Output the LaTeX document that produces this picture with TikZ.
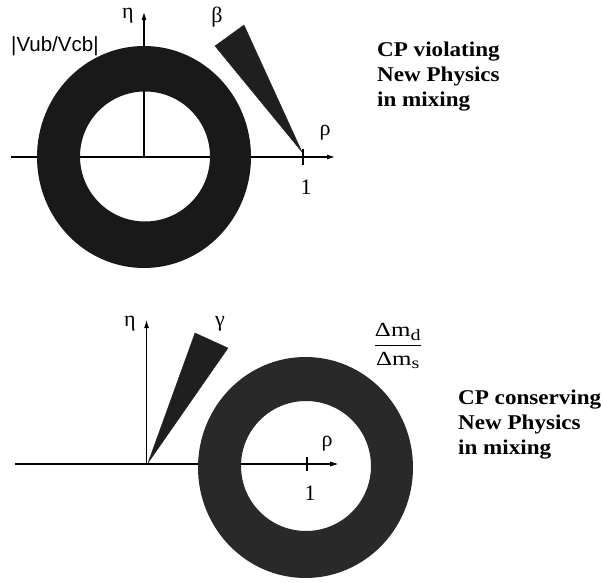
\documentclass[tikz,border=0pt]{standalone}
\usepackage{fontspec}
\setmainfont{Liberation Serif}
\newfontfamily\notefont[FakeStretch=1.1]{Liberation Serif}
\newfontfamily\fracfont[FakeStretch=1.25]{Liberation Serif}
\newfontfamily\vfont{Liberation Sans}
\usetikzlibrary{arrows.meta}
\begin{document}
\begin{tikzpicture}[x=1pt,y=-1pt,
  axis/.style={line width=1.1pt,-{Latex[length=8pt,width=5pt]}},
  tickline/.style={line width=1.1pt},
  ringtop/.style={fill=black!90,even odd rule},
  ringbot/.style={fill=black!84,even odd rule},
  wedge/.style={fill=black!88,draw=black!88,line width=0.4pt,line join=miter},
  greek/.style={font=\fontsize{22}{22}\selectfont,inner sep=0pt},
  note/.style={font=\notefont\bfseries\fontsize{21}{25}\selectfont,anchor=base west,inner sep=0pt},
]
\useasboundingbox (0,0) rectangle (603,583);

% ---------- top diagram ----------
\coordinate (ax1l) at (11,157);
\coordinate (ax1r) at (335,157);
\coordinate (o1) at (144,157);
\coordinate (ay1t) at (144,12);
\draw[axis] (ax1l) -- (ax1r);
\draw[axis] (o1) -- (ay1t);
\fill[ringtop] (144,157) ellipse [x radius=107, y radius=111]
               (145,156.5) circle [radius=65];
\coordinate (t1a) at (303,149);
\coordinate (t1b) at (303,165);
\draw[tickline] (t1a) -- (t1b);
\coordinate (b0) at (302,152);
\coordinate (b1) at (215,46);
\coordinate (b2) at (244,25);
\filldraw[wedge] (b0) -- (b1) -- (b2) -- cycle;
\node[greek] (eta1) at (128,16) {η};
\node[greek] (beta) at (217,17) {β};
\node[greek] (rho1) at (325,133) {ρ};
\node[greek] (one1) at (306,187) {1};
\node[font=\vfont\fontsize{20.5}{20.5}\selectfont,inner sep=0pt,anchor=base west] (vub) at (11,52) {|Vub/Vcb|};
\node[note] (n1a) at (377,57) {CP violating};
\node[note] (n1b) at (377,82) {New Physics};
\node[note] (n1c) at (377,107) {in mixing};

% ---------- bottom diagram ----------
\coordinate (ax2l) at (15,464);
\coordinate (ax2r) at (338,464);
\coordinate (o2) at (146.5,464);
\coordinate (ay2t) at (146.5,320);
\coordinate (ax2m) at (242,464);
\draw[axis] (ax2l) -- (ax2r);
\draw[axis] (o2) -- (ay2t);
\fill[ringbot] (305.5,467.5) ellipse [x radius=107.5, y radius=110.5]
               (306,466) circle [radius=65];
\draw[axis] (ax2m) -- (ax2r);
\coordinate (t2a) at (307,457);
\coordinate (t2b) at (307,471);
\draw[tickline] (t2a) -- (t2b);
\coordinate (g0) at (148,463);
\coordinate (g1) at (195,333);
\coordinate (g2) at (228,348);
\filldraw[wedge] (g0) -- (g1) -- (g2) -- cycle;
\node[greek] (eta2) at (130,324) {η};
\node[greek] (gamma) at (220,324) {γ};
\node[greek] (rho2) at (327,444) {ρ};
\node[greek] (one2) at (310,493) {1};
\node[inner sep=0pt,font=\fontsize{20}{20}\selectfont] (dm) at (398,346)
  {$\displaystyle\frac{\mbox{\fracfont Δm}_{\mbox{\fracfont\fontsize{16}{16}\selectfont d}}}{\mbox{\fracfont Δm}_{\mbox{\fracfont\fontsize{16}{16}\selectfont s}}}$};
\node[note] (n2a) at (458,404) {CP conserving};
\node[note] (n2b) at (458,429) {New Physics};
\node[note] (n2c) at (458,454) {in mixing};
\end{tikzpicture}
\end{document}
